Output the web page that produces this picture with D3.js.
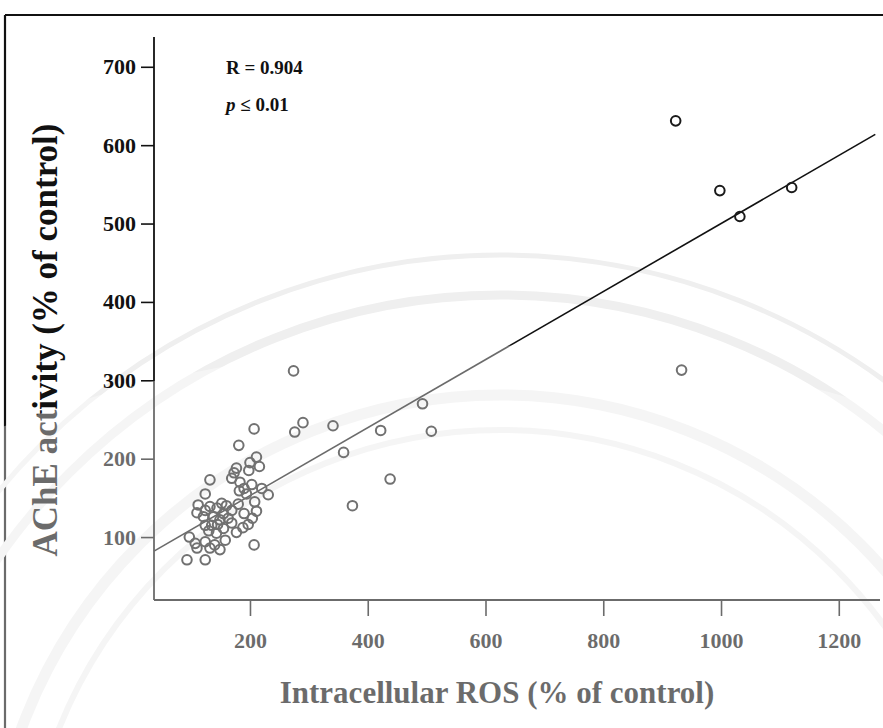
<!DOCTYPE html>
<html>
<head>
<meta charset="utf-8">
<script src="https://cdn.jsdelivr.net/npm/d3@7/dist/d3.min.js"></script>
<style>
  html, body { margin: 0; padding: 0; background: #fff; }
  svg { display: block; }
  text { font-family: "Liberation Serif", "Times New Roman", serif; font-weight: bold; fill: #111; }
</style>
</head>
<body>
<svg id="chart" width="883" height="728"></svg>
<script>
// Intracellular ROS (% of control) for each sample
const rosValues = [
  923, 998, 1032, 1120, 933,
  274, 290, 276, 341, 359, 374, 422, 493, 508, 438,
  207, 181, 211, 200, 216, 198, 177, 173, 169, 132, 203, 182, 194, 220, 231, 208, 211, 204, 197, 207,
  124, 112, 124, 110, 132, 144, 152, 160, 169, 155, 121, 138, 149, 163, 169, 177, 124, 135, 155, 145,
  97, 107, 124, 140, 149, 158, 93, 124, 110, 132, 143, 130, 188, 183, 190, 180, 190
];
// AChE activity (% of control) for the same samples
const acheValues = [
  631, 542, 509, 546, 313,
  312, 246, 234, 242, 208, 140, 236, 270, 235, 174,
  238, 217, 202, 195, 190, 185, 188, 182, 175, 173, 167, 159, 155, 162, 154, 145, 133, 124, 116, 90,
  155, 141, 134, 131, 139, 137, 143, 140, 134, 130, 126, 126, 122, 124, 118, 106, 115, 115, 111, 116,
  100, 92, 94, 90, 84, 96, 71, 71, 86, 86, 105, 108, 112, 170, 162, 142, 130
];
const xTicks = [200, 400, 600, 800, 1000, 1200];
const yTicks = [100, 200, 300, 400, 500, 600, 700];
// Least-squares fit drawn across the data range
const fitSlope = 0.434;
const fitIntercept = 66;
const fitRange = [37, 1262];
const statLines = ["R = 0.904", "≤ 0.01"];

const svg = d3.select("#chart");

const x = d3.scaleLinear().domain([37, 1270]).range([154, 880]);
const y = d3.scaleLinear().domain([19.7, 738]).range([600, 37]);

// Page frame (top and left edges)
svg.append("line").attr("x1", 5).attr("y1", 15).attr("x2", 883).attr("y2", 15)
  .attr("stroke", "#111").attr("stroke-width", 2.2);
svg.append("line").attr("x1", 5).attr("y1", 15).attr("x2", 5).attr("y2", 728)
  .attr("stroke", "#111").attr("stroke-width", 2.2);

// Faint seal watermark rings behind the plot
const wm = svg.append("g").attr("fill", "none").attr("stroke", "#efefef");
[[500, 905, 510, 11], [500, 905, 475, 6], [500, 905, 610, 9], [500, 905, 650, 5]].forEach(([cx, cy, r, w]) => {
  wm.append("circle").attr("cx", cx).attr("cy", cy).attr("r", r).attr("stroke-width", w);
});

// Axes
const fmt = d3.format("d");
const xAxis = d3.axisBottom(x).tickValues(xTicks).tickFormat(fmt).tickSize(16).tickPadding(16).tickSizeOuter(0);
const yAxis = d3.axisLeft(y).tickValues(yTicks).tickFormat(fmt).tickSize(13).tickPadding(5).tickSizeOuter(0);

const gx = svg.append("g").attr("transform", "translate(0,600)").call(xAxis);
const gy = svg.append("g").attr("transform", "translate(154,0)").call(yAxis);
[gx, gy].forEach(g => {
  g.select(".domain").attr("stroke", "#111").attr("stroke-width", 1.8);
  g.selectAll(".tick line").attr("stroke", "#111").attr("stroke-width", 1.6);
  g.selectAll(".tick text").attr("fill", "#111")
    .style("font-family", "'Liberation Serif', serif").style("font-weight", "bold").style("font-size", "22px");
});
gy.select(".domain").attr("d", `M0,${y(738)}V600`);
gx.select(".domain").attr("d", `M154,0H880`);

// Regression line
svg.append("line")
  .attr("x1", x(fitRange[0])).attr("y1", y(fitIntercept + fitSlope * fitRange[0]))
  .attr("x2", x(fitRange[1])).attr("y2", y(fitIntercept + fitSlope * fitRange[1]))
  .attr("stroke", "#111").attr("stroke-width", 1.6);

// Data points
svg.append("g").selectAll("circle")
  .data(rosValues.map((v, i) => [v, acheValues[i]]))
  .join("circle")
  .attr("cx", d => x(d[0])).attr("cy", d => y(d[1])).attr("r", 4.8)
  .attr("fill", "none").attr("stroke", "#1a1a1a").attr("stroke-width", 2);

// Statistics annotation
svg.append("text").attr("x", 226).attr("y", 74).style("font-size", "19px").text(statLines[0]);
const pText = svg.append("text").attr("x", 226).attr("y", 111).style("font-size", "19px");
pText.append("tspan").style("font-style", "italic").text("p");
pText.append("tspan").text(" " + statLines[1]);

// Axis titles
svg.append("text").attr("x", 497).attr("y", 703).attr("text-anchor", "middle")
  .style("font-size", "31px").text("Intracellular ROS (% of control)");
svg.append("text").attr("transform", "translate(57,340) rotate(-90)").attr("text-anchor", "middle")
  .style("font-size", "35px").text("AChE activity (% of control)");

// Watermark wash that lightens the lower part of the page
svg.append("ellipse").attr("cx", 470).attr("cy", 1050).attr("rx", 1000).attr("ry", 705)
  .attr("fill", "#fff").attr("opacity", 0.38).style("pointer-events", "none");
</script>
</body>
</html>
